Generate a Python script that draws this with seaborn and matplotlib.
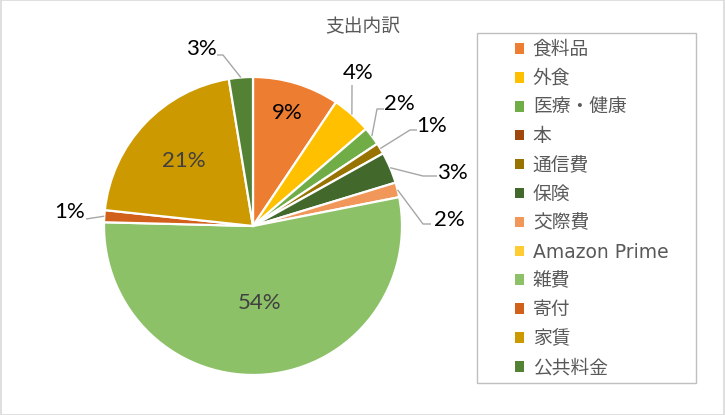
import numpy as np
import pandas as pd
import seaborn as sns
import matplotlib
matplotlib.use("Agg")
import matplotlib.pyplot as plt
from matplotlib.patches import Patch, Rectangle

# ---- data ----
categories = ['食料品', '外食', '医療・健康', '本', '通信費', '保険', '交際費',
              'Amazon Prime', '雑費', '寄付', '家賃', '公共料金']
shares = [9.4, 4.3, 2.0, 0.0, 1.2, 3.4, 1.6, 0.0, 53.5, 1.3, 20.7, 2.6]
pct_labels = ['9%', '4%', '2%', '', '1%', '3%', '2%', '', '54%', '1%', '21%', '3%']
colors = ['#ED7D31', '#FFC000', '#70AD47', '#9E480E', '#997300', '#43682B',
          '#F1975A', '#FFCD33', '#8CC168', '#D0601A', '#CC9900', '#548235']
title = '支出内訳'

df = pd.DataFrame({'cat': categories, 'share': shares, 'label': pct_labels, 'color': colors})

sns.set_theme(style='white')
plt.rcParams['font.family'] = ['Noto Sans CJK JP', 'DejaVu Sans']

W, H = 725, 415
fig = plt.figure(figsize=(W / 100, H / 100), dpi=100)
ax = fig.add_axes([0, 0, 1, 1])

cx, cy, R = 253, H - 226, 149
nz = df[df['share'] > 0].reset_index(drop=True)
wedges, _ = ax.pie(nz['share'], colors=nz['color'], startangle=90, counterclock=False,
                   center=(cx, cy), radius=R,
                   wedgeprops=dict(edgecolor='white', linewidth=1.6))
ax.set_xlim(0, W)
ax.set_ylim(0, H)
ax.set_aspect('equal')
ax.axis('off')

def y(py):
    return H - py

# layout for labels: inside -> radial fraction; outside -> text pos, leader start, elbow (pixel coords, y down)
inside = {'食料品': 0.79, '家賃': 0.64, '雑費': 0.52}
outside = {
    '外食':   ((358, 73), [(352, 85)]),
    '医療・健康': ((399, 104), [(384, 109), (377, 109)]),
    '通信費': ((432, 126), [(417, 130), (410, 130)]),
    '保険':   ((452, 173), [(437, 176), (423, 176)]),
    '交際費': ((449, 220), [(431, 224), (423, 224)]),
    '寄付':   ((70, 212), [(86, 219)]),
    '公共料金': ((201, 49), [(217, 55), (223, 55)]),
}
pct_font = dict(family=['Lato', 'DejaVu Sans'], fontsize=16)

for w, (_, row) in zip(wedges, nz.iterrows()):
    mid = np.deg2rad((w.theta1 + w.theta2) / 2)
    d = np.array([np.cos(mid), np.sin(mid)])
    if row['cat'] in inside:
        p = np.array([cx, cy]) + inside[row['cat']] * R * d
        col = '#000000' if row['cat'] == '食料品' else '#404040'
        ax.text(p[0], p[1], row['label'], ha='center', va='center', color=col, **pct_font)
    elif row['cat'] in outside and row['label']:
        (tx, ty), pts = outside[row['cat']]
        ax.text(tx, y(ty), row['label'], ha='center', va='center', color='#000000', **pct_font)
        anchor = np.array([cx, cy]) + R * d
        xs = [p[0] for p in pts] + [anchor[0]]
        ys = [y(p[1]) for p in pts] + [anchor[1]]
        ax.plot(xs, ys, color='#A6A6A6', lw=1.0, solid_capstyle='butt')

# title
ax.text(W / 2, y(27), title, ha='center', va='center', fontsize=13.5, color='#595959')

# legend box + legend
ax.add_patch(Rectangle((477, y(383)), 219, 350, facecolor='none', edgecolor='#BFBFBF', lw=1.0))
handles = [Patch(facecolor=c, edgecolor='none') for c in colors]
leg = fig.legend(handles, categories, loc='upper left', bbox_to_anchor=(515 / W, 1 - 40 / H),
                 frameon=False, borderpad=0, borderaxespad=0, handlelength=0.5, handleheight=0.5,
                 handletextpad=0.45, labelspacing=0.53,
                 prop=dict(family=['DejaVu Sans', 'Noto Sans CJK JP'], size=13.5))
for t in leg.get_texts():
    t.set_color('#595959')

# outer chart border
ax.add_patch(Rectangle((0.5, 0.5), W - 1, H - 1, facecolor='none', edgecolor='#D9D9D9', lw=1.2))

fig.savefig('out.png', dpi=100)
